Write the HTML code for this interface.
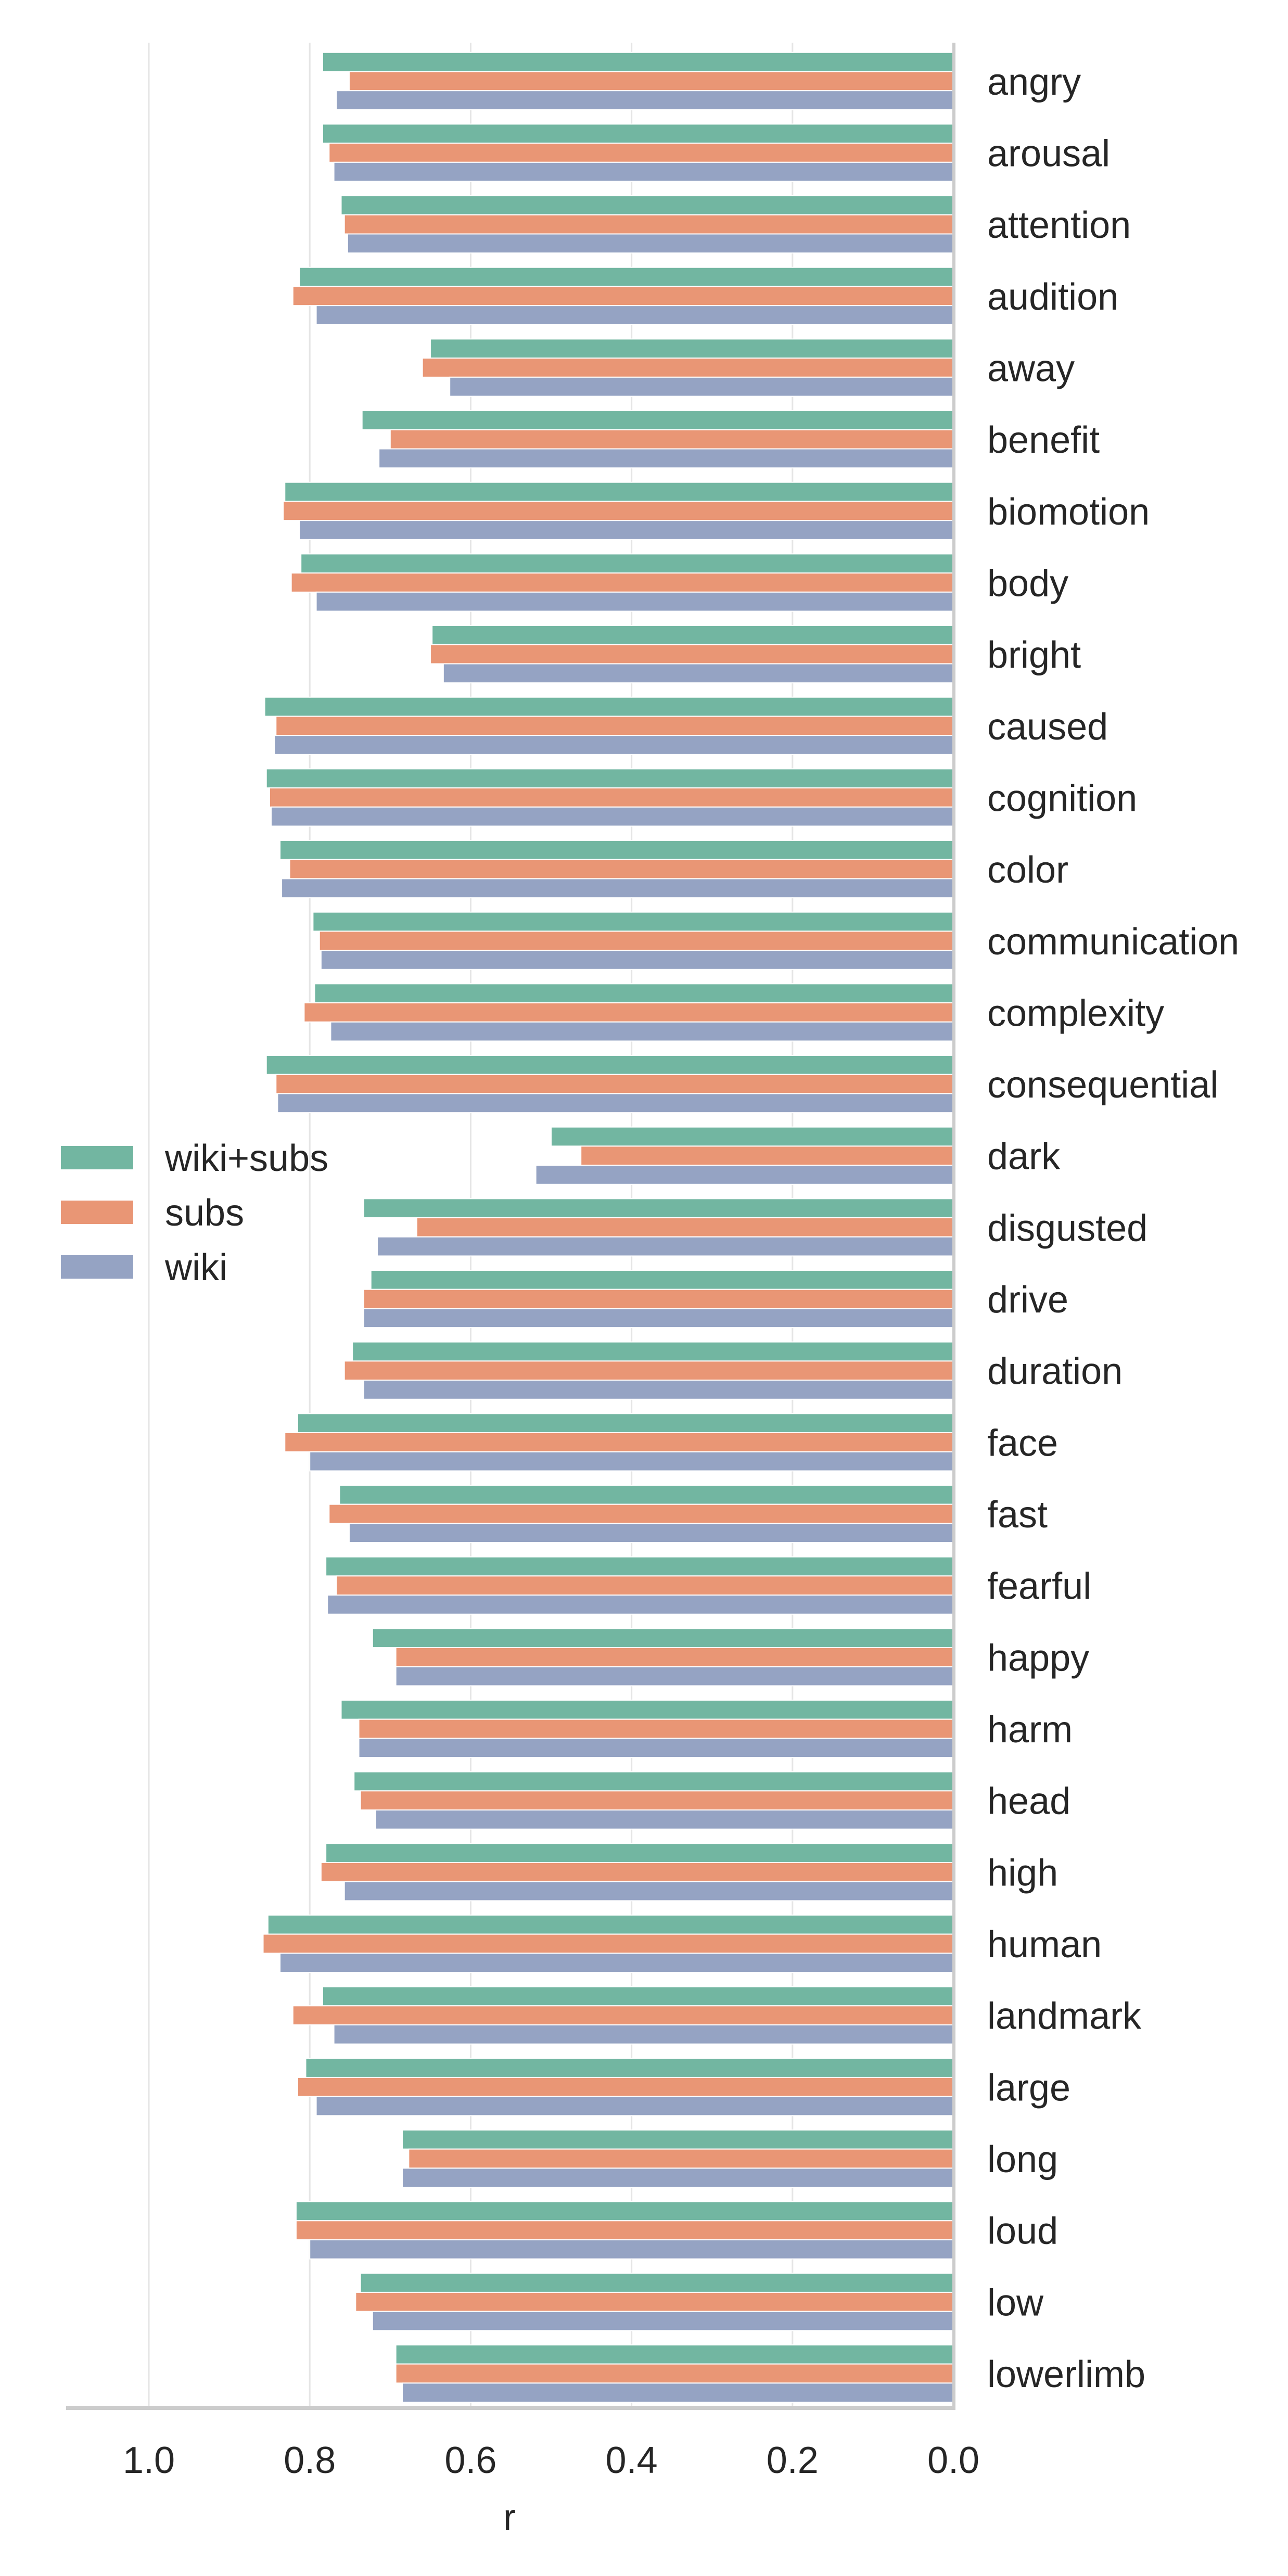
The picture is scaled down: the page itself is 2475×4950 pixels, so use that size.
<!DOCTYPE html>
<html><head><meta charset="utf-8"><style>
html,body{margin:0;padding:0;background:#fff;}
svg{display:block;font-family:"Liberation Sans",Arial,sans-serif;}
</style></head><body>
<svg id="chart" width="2475" height="4950" viewBox="0 0 2475 4950" xmlns="http://www.w3.org/2000/svg">
<g id="grid"></g>
<g id="bars"></g>
<g id="axes"></g>
<g id="legend">
  <rect x="117" y="2202" width="139" height="45" fill="#72b6a1"/>
  <text x="317" y="2250" font-size="72" fill="#262626">wiki+subs</text>
  <rect x="117" y="2307" width="139" height="45" fill="#e99675"/>
  <text x="317" y="2355" font-size="72" fill="#262626">subs</text>
  <rect x="117" y="2412" width="139" height="45" fill="#95a3c3"/>
  <text x="317" y="2460" font-size="72" fill="#262626">wiki</text>
</g>
<text x="979" y="4862" font-size="72" fill="#262626" text-anchor="middle">r</text>
</svg>
<script>
const categories = ["angry","arousal","attention","audition","away","benefit","biomotion","body","bright","caused","cognition","color","communication","complexity","consequential","dark","disgusted","drive","duration","face","fast","fearful","happy","harm","head","high","human","landmark","large","long","loud","low","lowerlimb"];
const wikiSubs = [0.784,0.784,0.761,0.813,0.650,0.735,0.831,0.811,0.648,0.856,0.854,0.837,0.796,0.794,0.854,0.500,0.733,0.724,0.747,0.815,0.763,0.780,0.722,0.761,0.745,0.780,0.852,0.784,0.805,0.685,0.817,0.737,0.693];
const subs = [0.751,0.776,0.757,0.821,0.660,0.700,0.833,0.823,0.650,0.842,0.850,0.825,0.788,0.807,0.842,0.463,0.667,0.733,0.757,0.831,0.776,0.767,0.693,0.739,0.737,0.786,0.858,0.821,0.815,0.677,0.817,0.743,0.693];
const wiki = [0.767,0.770,0.753,0.792,0.626,0.714,0.813,0.792,0.634,0.844,0.848,0.835,0.786,0.774,0.840,0.519,0.716,0.733,0.733,0.800,0.751,0.778,0.693,0.739,0.718,0.757,0.837,0.770,0.792,0.685,0.800,0.722,0.685];
const xTicks = [1.0,0.8,0.6,0.4,0.2,0.0];
const xTickLabels = ["1.0","0.8","0.6","0.4","0.2","0.0"];

const NS = "http://www.w3.org/2000/svg";
const X0 = 1832, X1 = 286;
function xScale(v){ return X0 - v*(X0 - X1); }
const Y_TOP = 87, BAND = 137.66;
function yBand(i){ return Y_TOP + i*BAND; }
function mk(tag, attrs){ const e=document.createElementNS(NS,tag); for(const k in attrs) e.setAttribute(k, attrs[k]); return e; }

const grid = document.getElementById('grid');
xTicks.forEach((t,i)=>{
  const gl = mk('line',{x1:xScale(t),x2:xScale(t),y1:82,y2:4627,stroke:'#e5e5e5','stroke-width':3});
  
  
  grid.appendChild(gl);
});

const barsG = document.getElementById('bars');
const series = [[wikiSubs,'#72b6a1','wiki-subs'],[subs,'#e99675','subs'],[wiki,'#95a3c3','wiki']];
const sub = BAND*0.8/3;
categories.forEach((c,i)=>{
  series.forEach((s,j)=>{
    const v = s[0][i];
    const y = yBand(i) + BAND*0.1 + j*sub;
    const r = mk('rect',{x:xScale(v),y:y,width:xScale(0)-xScale(v),height:sub,fill:s[1],stroke:'#fff','stroke-width':2});
    
    
    barsG.appendChild(r);
  });
  const t = mk('text',{x:1897,y:yBand(i)+BAND/2+26,'font-size':72,fill:'#262626'});
  t.textContent = c;
  
  
  barsG.appendChild(t);
});

const axes = document.getElementById('axes');
const bottom = mk('line',{x1:127,x2:1836,y1:4627,y2:4627,stroke:'#cccccc','stroke-width':8});


axes.appendChild(bottom);
const right = mk('line',{x1:1833,x2:1833,y1:82,y2:4631,stroke:'#cccccc','stroke-width':6});


axes.appendChild(right);
xTicks.forEach((t,i)=>{
  const lbl = mk('text',{x:xScale(t),y:4752,'font-size':72,fill:'#262626','text-anchor':'middle'});
  lbl.textContent = xTickLabels[i];
  
  
  axes.appendChild(lbl);
});
</script>
</body></html>
